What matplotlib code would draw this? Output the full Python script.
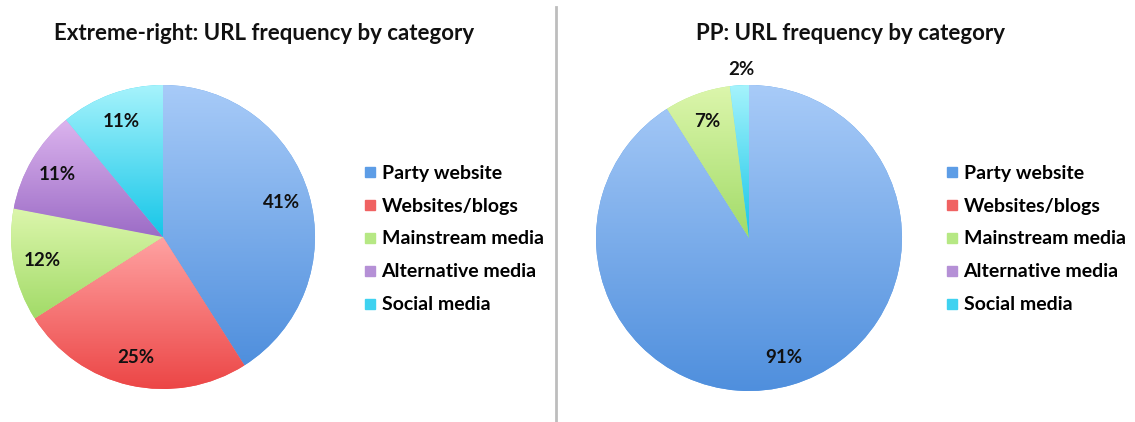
import numpy as np
import matplotlib
matplotlib.use('Agg')
import matplotlib.pyplot as plt
from matplotlib.colors import LinearSegmentedColormap
from matplotlib.lines import Line2D

plt.rcParams['font.family'] = ['Lato', 'DejaVu Sans']

categories = ['Party website', 'Websites/blogs', 'Mainstream media',
              'Alternative media', 'Social media']
extreme_right = [41, 25, 12, 11, 11]
pp = [91, 0, 7, 0, 2]
titles = ['Extreme-right: URL frequency by category',
          'PP: URL frequency by category']

# (top, bottom) gradient colours per category, plus flat legend colour
grad = [('#a8cbf8', '#4f8fdd'), ('#ffa2a2', '#ec4646'), ('#dcf6ac', '#a2db68'),
        ('#dcb4ee', '#9c6cc6'), ('#a6f3fc', '#16c6e8')]
flat = ['#5d9de6', '#f06262', '#b6e884', '#b590d6', '#3fd2f0']

W, H = 1135, 422
fig = plt.figure(figsize=(W / 100, H / 100), dpi=100)


def draw_pie(cx, cy, r, values, title, title_x, legend_x, moved=None):
    ax = fig.add_axes([(cx - r) / W, (H - cy - r) / H, 2 * r / W, 2 * r / H])
    wedges, _, autotexts = ax.pie(values, colors=flat, startangle=90,
                                  counterclock=False, radius=1,
                                  autopct=lambda p: f'{p:.0f}%' if p > 0.5 else '',
                                  pctdistance=0.81,
                                  textprops=dict(fontsize=13.5, fontweight='bold',
                                                 color='#111111'))
    for w, (top, bot) in zip(wedges, grad):
        ext = w.get_path().get_extents()
        if ext.width <= 0 or ext.height <= 0:
            continue
        cmap = LinearSegmentedColormap.from_list('g', [bot, top])
        g = np.linspace(0, 1, 256).reshape(-1, 1)
        im = ax.imshow(g, cmap=cmap, extent=[ext.x0, ext.x1, ext.y0, ext.y1],
                       origin='lower', aspect='auto', interpolation='bilinear',
                       zorder=w.get_zorder() + 0.1)
        im.set_clip_path(w)
    for t in autotexts:
        t.set_zorder(5)
    if moved:
        for i, pos in moved.items():
            autotexts[i].set_position(pos)
    ax.set_xlim(-1, 1)
    ax.set_ylim(-1, 1)
    ax.set_aspect('auto')
    ax.axis('off')

    fig.text(title_x / W, 1 - 34 / H, title, ha='center', va='center',
             fontsize=16, fontweight='bold', color='#111111')

    handles = [Line2D([], [], marker='s', linestyle='', markersize=7.5,
                      markerfacecolor=c, markeredgecolor=c) for c in flat]
    fig.legend(handles, categories, loc='center left',
               bbox_to_anchor=(legend_x / W, 1 - 239 / H), frameon=False,
               prop=dict(size=14, weight='bold'), handlelength=0.6,
               handletextpad=0.3, labelspacing=0.82, borderpad=0,
               borderaxespad=0)


draw_pie(163, 237, 152, extreme_right, titles[0], 264, 364)
draw_pie(749, 238, 153, pp, titles[1], 850, 946,
         moved={4: (-0.05, 1.1)})

fig.add_artist(Line2D([556 / W, 556 / W], [0, 1 - 7 / H], color='#bdbdbd',
                      linewidth=2, transform=fig.transFigure))

fig.savefig('out.png', dpi=100, facecolor='white')
